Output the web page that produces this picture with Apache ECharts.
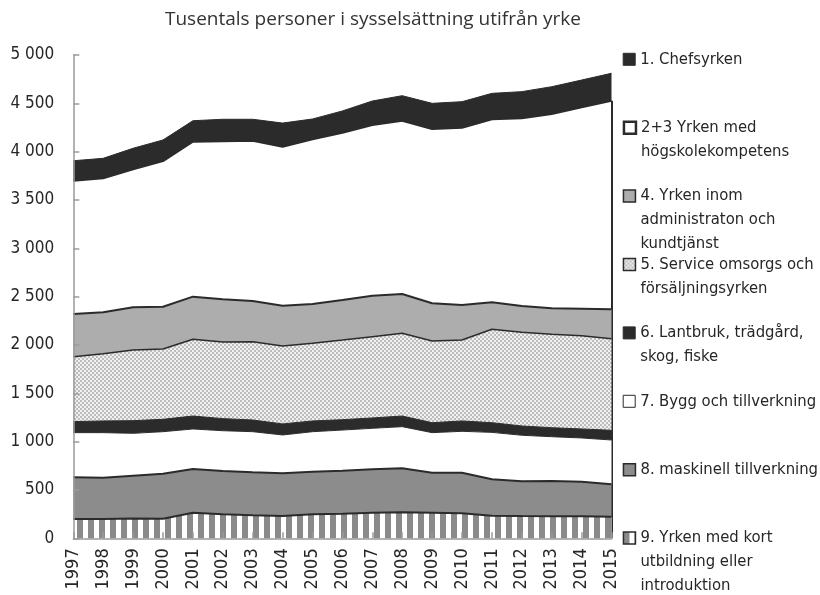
<!DOCTYPE html>
<html>
<head>
<meta charset="utf-8">
<script src="https://cdn.jsdelivr.net/npm/echarts@6/dist/echarts.min.js"></script>
<style>
  html, body { margin: 0; padding: 0; background: #fff; }
  #chart { width: 820px; height: 595px; }
</style>
</head>
<body>
<div id="chart"></div>
<script>
// år
const years = ['1997', '1998', '1999', '2000', '2001', '2002', '2003', '2004', '2005', '2006',
  '2007', '2008', '2009', '2010', '2011', '2012', '2013', '2014', '2015']

// tusentals personer per yrkesgrupp (avläst)
const kortUtb = [200, 200, 205, 203, 265, 248, 238, 230, 248, 255, 265, 269, 265, 258, 234, 230, 227, 227, 224]
const maskinell = [431, 427, 443, 465, 452, 448, 445, 442, 441, 444, 449, 455, 414, 421, 376, 360, 366, 359, 334]
const bygg = [462, 466, 438, 435, 414, 417, 420, 397, 414, 421, 424, 431, 414, 428, 486, 476, 458, 452, 459]
const lantbruk = [114, 121, 131, 128, 134, 125, 121, 114, 111, 107, 107, 110, 103, 107, 100, 96, 93, 93, 100]
const service = [672, 696, 731, 727, 794, 793, 810, 807, 803, 824, 841, 856, 845, 837, 966, 969, 966, 965, 948]
const admin = [441, 428, 442, 438, 441, 441, 421, 417, 407, 415, 424, 406, 390, 363, 279, 272, 270, 280, 304]
const hogskola = [1380, 1386, 1427, 1507, 1603, 1635, 1658, 1644, 1704, 1730, 1766, 1793, 1803, 1834, 1894, 1942, 2010, 2083, 2158]
const chef = [206, 207, 218, 218, 217, 228, 222, 245, 210, 225, 248, 259, 266, 269, 268, 276, 282, 282, 284]

const dark = '#2b2b2b'
const font = 'DejaVu Sans Condensed'

// mönster
function makePattern (w, h, draw) {
  const c = document.createElement('canvas')
  c.width = w
  c.height = h
  draw(c.getContext('2d'))
  return { image: c, repeat: 'repeat' }
}
const checker = makePattern(4, 4, ctx => {
  ctx.fillStyle = '#f0f0f0'
  ctx.fillRect(0, 0, 4, 4)
  ctx.fillStyle = '#bdbdbd'
  ctx.fillRect(0, 0, 2, 2)
  ctx.fillRect(2, 2, 2, 2)
})
const stripes = makePattern(11, 4, ctx => {
  ctx.fillStyle = '#ffffff'
  ctx.fillRect(0, 0, 11, 4)
  ctx.fillStyle = '#8a8a8a'
  ctx.fillRect(0, 0, 6, 4)
})

// staplas nerifrån och upp
const groups = [
  { lines: ['9. Yrken med kort', 'utbildning eller', 'introduktion'], data: kortUtb, fill: stripes, line: 2, row: 7, border: 1.5 },
  { lines: ['8. maskinell tillverkning'], data: maskinell, fill: '#8c8c8c', line: 2, row: 6, border: 1.5 },
  { lines: ['7. Bygg och tillverkning'], data: bygg, fill: '#ffffff', line: 1, row: 5, border: 1 },
  { lines: ['6. Lantbruk, trädgård,', 'skog, fiske'], data: lantbruk, fill: dark, line: 1, row: 4, border: 1 },
  { lines: ['5. Service omsorgs och', 'försäljningsyrken'], data: service, fill: checker, line: 1.5, row: 3, border: 1.5 },
  { lines: ['4. Yrken inom', 'administraton och', 'kundtjänst'], data: admin, fill: '#adadad', line: 2, row: 2, border: 1.5 },
  { lines: ['2+3 Yrken med', 'högskolekompetens'], data: hogskola, fill: '#ffffff', line: 2, row: 1, border: 2.5 },
  { lines: ['1. Chefsyrken'], data: chef, fill: dark, line: 1, row: 0, border: 1 }
]

const last = years.length - 1
const edgeTop = groups.slice(0, 7).reduce((s, g) => s + g.data[last], 0)

const series = groups.map((g, i) => {
  const s = {
    name: g.lines.join(' '),
    type: 'line',
    stack: 'total',
    symbol: 'none',
    z: 10 - i,
    data: g.data,
    lineStyle: { color: dark, width: g.line },
    itemStyle: { color: typeof g.fill === 'string' ? g.fill : '#cccccc' },
    areaStyle: { color: g.fill, opacity: 1 },
    emphasis: { disabled: true }
  }
  if (i === 0) {
    // högra kanten vid 2015
    s.markLine = {
      silent: true,
      symbol: 'none',
      label: { show: false },
      lineStyle: { color: dark, width: 2, type: 'solid' },
      data: [[{ coord: [years[last], 0] }, { coord: [years[last], edgeTop] }]]
    }
  }
  return s
})

const lh = 24
const legends = groups.map(g => {
  const n = g.lines.length
  const center = 59.3 + g.row * 68.4
  return {
    left: 622.7,
    top: center - (2 * n - 1) * lh / 2,
    padding: 0,
    itemWidth: 12,
    itemHeight: 12,
    itemGap: 5,
    selectedMode: false,
    data: [{
      name: g.lines.join(' '),
      icon: 'rect',
      itemStyle: { color: g.fill, borderColor: dark, borderWidth: g.border }
    }],
    formatter: () => '\n'.repeat(n - 1) + g.lines.join('\n'),
    textStyle: { fontFamily: font, fontSize: 16.5, lineHeight: lh, color: '#262626' }
  }
})

const chart = echarts.init(document.getElementById('chart'))
chart.setOption({
  animation: false,
  title: {
    text: 'Tusentals personer i sysselsättning utifrån yrke',
    left: 160,
    top: 5,
    textStyle: { fontFamily: 'Open Sans', fontSize: 19, fontWeight: 'normal', color: '#333' }
  },
  legend: legends,
  grid: { left: 73.3, right: 208.5, top: 55, bottom: 56.7, containLabel: false },
  xAxis: {
    type: 'category',
    data: years,
    boundaryGap: false,
    z: 20,
    axisLine: { lineStyle: { color: '#9a9a9a', width: 1.5 } },
    axisTick: { inside: true, length: 6, lineStyle: { color: '#9a9a9a', width: 1.5 } },
    axisLabel: { rotate: 90, margin: 10, interval: 0, fontFamily: font, fontSize: 18, color: '#262626' }
  },
  yAxis: {
    type: 'value',
    min: 0,
    max: 5000,
    interval: 500,
    z: 20,
    splitLine: { show: false },
    axisLine: { show: true, lineStyle: { color: '#9a9a9a', width: 1.5 } },
    axisTick: { show: true, inside: true, length: 6, lineStyle: { color: '#9a9a9a', width: 1.5 } },
    axisLabel: {
      margin: 19,
      fontFamily: font,
      fontSize: 17,
      color: '#262626',
      formatter: v => v >= 1000 ? Math.floor(v / 1000) + ' ' + String(v % 1000).padStart(3, '0') : String(v)
    }
  },
  series: series
})
</script>
</body>
</html>
